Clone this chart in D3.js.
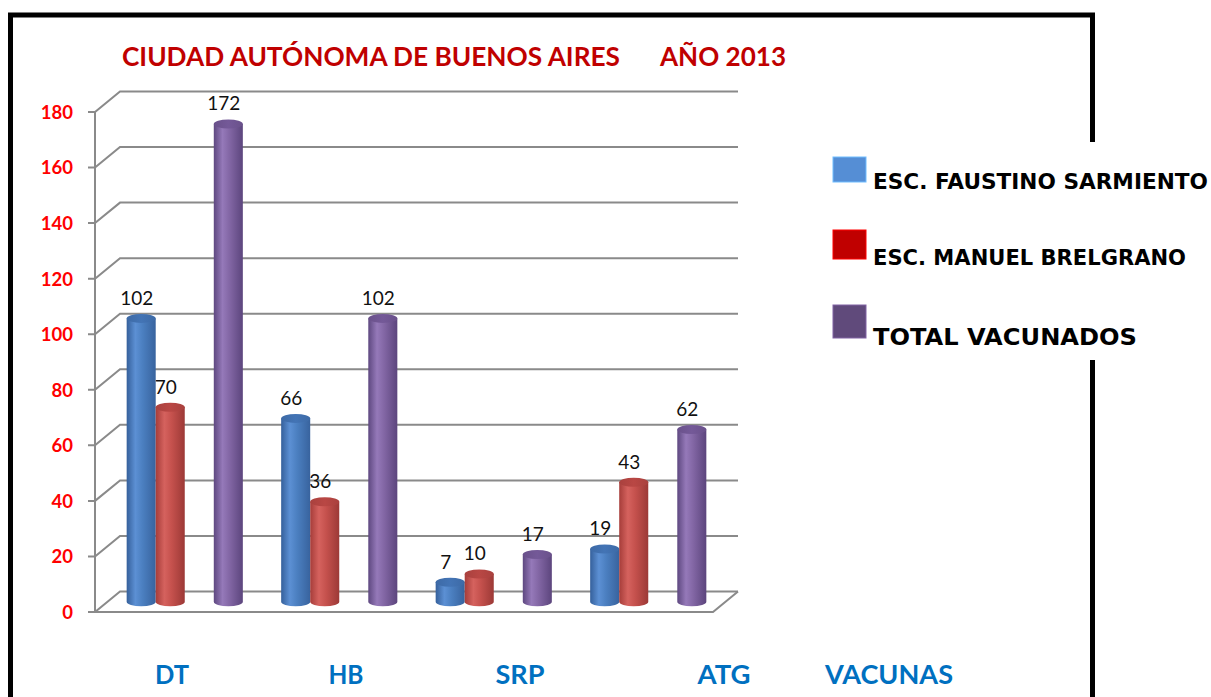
<!DOCTYPE html>
<html>
<head>
<meta charset="utf-8">
<script src="https://cdn.jsdelivr.net/npm/d3@7"></script>
<style>
  html, body { margin: 0; padding: 0; background: #fff; }
  svg { display: block; }
</style>
</head>
<body>
<div id="chart"></div>
<script>
// data
const categories = ['DT', 'HB', 'SRP', 'ATG'];
const seriesNames = ['ESC. FAUSTINO SARMIENTO', 'ESC. MANUEL BRELGRANO', 'TOTAL VACUNADOS'];
const faustino = [102, 66, 7, 19];
const belgrano = [70, 36, 10, 43];
const totalVac = [172, 102, 17, 62];
const yTicks = [0, 20, 40, 60, 80, 100, 120, 140, 160, 180];
const titleLeft = 'CIUDAD AUTÓNOMA DE BUENOS AIRES';
const titleRight = 'AÑO 2013';
const axisName = 'VACUNAS';

// layout
const W = 1211, H = 697;
const front = { x0: 95, x1: 713, y0: 612, y1: 112 };
const depth = { dx: 25, dy: -20.5 };
const labelX = [172, 346, 520, 724, 889]; // text boxes under the floor, not evenly spaced
const labelLen = [34, 35, 49, 53, 128];

const palette = {
  s1: { edge: '#35609b', light: '#5c90d4', base: '#4b7fc0', right: '#38639e', top: '#3d6aa6', key: '#558ed5' },
  s2: { edge: '#a63d3a', light: '#d5625e', base: '#c5514d', right: '#9c3936', top: '#a9413e', key: '#c00000' },
  s3: { edge: '#5e4880', light: '#9579b9', base: '#8266a4', right: '#5c457d', top: '#6a518b', key: '#604a7b' }
};

const series = [
  { key: 's1', name: seriesNames[0], values: faustino },
  { key: 's2', name: seriesNames[1], values: belgrano },
  { key: 's3', name: seriesNames[2], values: totalVac }
];

const svg = d3.select('#chart').append('svg').attr('width', W).attr('height', H);
const defs = svg.append('defs');

Object.entries(palette).forEach(([k, c]) => {
  const g = defs.append('linearGradient').attr('id', 'body-' + k).attr('x1', 0).attr('x2', 1).attr('y1', 0).attr('y2', 0);
  [[0, c.edge], [0.3, c.light], [0.55, c.base], [1, c.right]].forEach(s =>
    g.append('stop').attr('offset', s[0]).attr('stop-color', s[1]));
  const t = defs.append('linearGradient').attr('id', 'top-' + k).attr('x1', 0).attr('x2', 1).attr('y1', 0).attr('y2', 0);
  [[0, c.top], [0.5, d3.color(c.top).brighter(0.25)], [1, c.top]].forEach(s =>
    t.append('stop').attr('offset', s[0]).attr('stop-color', s[1]));
});

// scales
const y = d3.scaleLinear().domain([0, 180]).range([front.y0, front.y1]);
const x = d3.scaleBand().domain(categories).range([front.x0, front.x1]).padding(0);
const slot = d3.scaleBand().domain(['s1', 's2', 'gap', 's3']).range([0, x.bandwidth()])
  .paddingInner(0).paddingOuter(0.66);

// outer frame
svg.append('path')
  .attr('d', `M10.5,${H} V15 H1092.5 V142 M1092.5,360 V${H}`)
  .attr('fill', 'none').attr('stroke', '#000').attr('stroke-width', 5);

// title
const titleG = svg.append('g').attr('fill', '#c00000')
  .style('font-family', 'Lato, "Open Sans", sans-serif').style('font-weight', 700).style('font-size', '26.5px');
titleG.append('text').attr('x', 122).attr('y', 66).attr('textLength', 498)
  .attr('lengthAdjust', 'spacingAndGlyphs').text(titleLeft);
titleG.append('text').attr('x', 660).attr('y', 66).attr('textLength', 126)
  .attr('lengthAdjust', 'spacingAndGlyphs').text(titleRight);

// 3D walls: gridlines run from the front axis back to the rear wall
const grid = svg.append('g').attr('fill', 'none').attr('stroke', '#8a8a8a').attr('stroke-width', 2);
const backX0 = front.x0 + depth.dx, backX1 = front.x1 + depth.dx;
yTicks.forEach(v => {
  const yf = y(v);
  grid.append('path')
    .attr('d', `M${front.x0 - 7},${yf} H${front.x0} L${backX0},${yf + depth.dy} H${backX1}`);
});
grid.append('path').attr('d', `M${front.x0},${y(180)} V${y(0)}`);
// floor front edge
grid.append('path')
  .attr('d', `M${front.x0},${y(0)} H${front.x1} L${backX1},${y(0) + depth.dy}`);

// y labels
svg.append('g').selectAll('text').data(yTicks).join('text')
  .attr('x', 73).attr('y', d => y(d)).attr('dy', '0.37em')
  .attr('text-anchor', 'end').attr('fill', '#ff0000')
  .style('font-family', 'Lato, sans-serif').style('font-weight', 700).style('font-size', '18.5px')
  .text(d => d);

// bars as cylinders sitting halfway into the depth
const midDx = depth.dx / 2, midDy = depth.dy / 2;
const bars = [];
series.forEach(s => {
  s.values.forEach((v, i) => {
    const cx = x(categories[i]) + slot(s.key) + slot.bandwidth() / 2 + midDx;
    bars.push({ key: s.key, v, cx, r: slot.bandwidth() / 2,
      yTop: y(v) + midDy, yBot: y(0) + midDy, cat: i });
  });
});
const ry = 4.5;

// value labels first, cylinders drawn over them
svg.append('g').selectAll('text').data(bars).join('text')
  .attr('x', d => d.cx - 4.5).attr('y', d => d.yTop - 13.5)
  .attr('text-anchor', 'middle').attr('fill', '#111')
  .style('font-family', 'Lato, sans-serif').style('font-size', '19px')
  .text(d => d.v);

const cyl = svg.append('g').selectAll('g')
  .data(bars.slice().sort((a, b) => a.cx - b.cx)).join('g');
cyl.append('path')
  .attr('d', d => `M${d.cx - d.r},${d.yTop} V${d.yBot} A${d.r},${ry} 0 0 0 ${d.cx + d.r},${d.yBot} V${d.yTop} Z`)
  .attr('fill', d => `url(#body-${d.key})`);
cyl.append('ellipse')
  .attr('cx', d => d.cx).attr('cy', d => d.yTop).attr('rx', d => d.r).attr('ry', ry)
  .attr('fill', d => `url(#top-${d.key})`);

// category text under the floor
svg.append('g').selectAll('text').data(categories.concat([axisName])).join('text')
  .attr('x', (d, i) => labelX[i]).attr('y', 684)
  .attr('textLength', (d, i) => labelLen[i]).attr('lengthAdjust', 'spacingAndGlyphs')
  .attr('text-anchor', 'middle').attr('fill', '#0070c0')
  .style('font-family', 'Lato, sans-serif').style('font-weight', 700).style('font-size', '27px')
  .text(d => d);

// legend
const keyBox = [{ y: 157, h: 25, base: 189 }, { y: 230, h: 29, base: 265 }, { y: 305, h: 33, base: 345 }];
const keyText = [{ size: 21, len: 335 }, { size: 21, len: 313 }, { size: 23, len: 264 }];
const leg = svg.append('g').selectAll('g').data(series).join('g');
leg.append('rect')
  .attr('x', 833).attr('y', (d, i) => keyBox[i].y).attr('width', 33).attr('height', (d, i) => keyBox[i].h)
  .attr('fill', d => palette[d.key].key)
  .attr('stroke', d => d3.color(palette[d.key].key).brighter(0.8)).attr('stroke-width', 1);
leg.append('text')
  .attr('x', 873).attr('y', (d, i) => keyBox[i].base)
  .attr('textLength', (d, i) => keyText[i].len).attr('lengthAdjust', 'spacingAndGlyphs')
  .attr('fill', '#000')
  .style('font-family', '"DejaVu Sans", Verdana, sans-serif').style('font-weight', 700)
  .style('font-size', (d, i) => keyText[i].size + 'px')
  .text(d => d.name);
</script>
</body>
</html>
